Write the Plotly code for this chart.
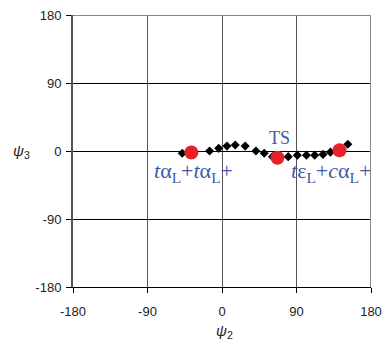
import plotly.graph_objects as go

# scan path in (psi2, psi3) space, degrees
scan_psi2 = [-48, -15, -4, 6, 16, 28, 41, 51, 61, 80, 91, 102, 112, 122, 131, 152]
scan_psi3 = [-3, 0, 3.5, 6.5, 8, 6.5, 0, -3, -7.5, -7.5, -5.5, -5.5, -5.5, -4.5, -1.5, 9]

# stationary points: two minima and the transition state
key_psi2 = [-37, 67, 142]
key_psi3 = [-2, -9, 1]

tick_vals = [-180, -90, 0, 90, 180]
tick_text = ["-180", "-90", "0", "90", "180"]

label_color = "#3c5aa8"
serif = "Liberation Serif"
sans = "Liberation Sans"

fig = go.Figure()
fig.add_trace(go.Scatter(
    x=scan_psi2, y=scan_psi3, mode="markers",
    marker=dict(symbol="diamond", size=7, color="black"),
    showlegend=False, cliponaxis=False,
))
fig.add_trace(go.Scatter(
    x=key_psi2, y=key_psi3, mode="markers",
    marker=dict(symbol="circle", size=14, color="#e8202a"),
    showlegend=False, cliponaxis=False,
))

fig.update_xaxes(
    range=[-180, 180], tickvals=tick_vals, ticktext=tick_text,
    showgrid=True, gridcolor="#555555", gridwidth=1,
    showline=True, linecolor="black", linewidth=1,
    ticks="outside", ticklen=5, tickcolor="black",
    zeroline=False, automargin=False, ticklabelstandoff=7,
    tickfont=dict(family=sans, size=13, color="#222222"),
)
fig.update_yaxes(
    range=[-180, 180], tickvals=tick_vals, ticktext=tick_text,
    showgrid=True, gridcolor="black", gridwidth=1,
    showline=True, linecolor="#555555", linewidth=2,
    ticks="outside", ticklen=5, tickcolor="black",
    zeroline=False, automargin=False, ticklabelstandoff=2,
    tickfont=dict(family=sans, size=13, color="#222222"),
)

# top and right frame edges
fig.add_shape(type="line", xref="x", yref="y", x0=-180, x1=180, y0=180, y1=180,
              line=dict(color="#888888", width=2), layer="above")
fig.add_shape(type="line", xref="x", yref="y", x0=180, x1=180, y0=-180, y1=180,
              line=dict(color="#888888", width=2), layer="above")

W, H = 384, 343
ML, MR, MT, MB = 73, 13, 15, 56


def px_to_paper(px, py):
    return (px - ML) / (W - ML - MR), 1 - (py - MT) / (H - MT - MB)


ps3_x, ps3_y = px_to_paper(21, 151)
ps2_x, ps2_y = px_to_paper(224, 331)

sub_L = '<sub>L</sub>'
annotations = [
    dict(x=70, y=17, xref="x", yref="y", text="TS", showarrow=False,
         font=dict(family=serif, size=18, color=label_color)),
    dict(x=-34, y=-28, xref="x", yref="y",
         text=f"<i>t</i>α{sub_L}+<i>t</i>α{sub_L}+", showarrow=False,
         font=dict(family=serif, size=22, color=label_color)),
    dict(x=132, y=-28, xref="x", yref="y",
         text=f"<i>t</i>ε{sub_L}+<i>c</i>α{sub_L}+", showarrow=False,
         font=dict(family=serif, size=22, color=label_color)),
    dict(x=ps3_x, y=ps3_y, xref="paper", yref="paper", text="<i>ψ</i><sub>3</sub>",
         xanchor="center", yanchor="middle",
         showarrow=False, font=dict(family=sans, size=15, color="#222222")),
    dict(x=ps2_x, y=ps2_y, xref="paper", yref="paper", text="<i>ψ</i><sub>2</sub>",
         xanchor="center", yanchor="middle",
         showarrow=False, font=dict(family=sans, size=15, color="#222222")),
]

fig.update_layout(
    width=W, height=H,
    margin=dict(l=ML, r=MR, t=MT, b=MB),
    paper_bgcolor="white", plot_bgcolor="white",
    annotations=annotations,
)

fig.write_html("out.html")
